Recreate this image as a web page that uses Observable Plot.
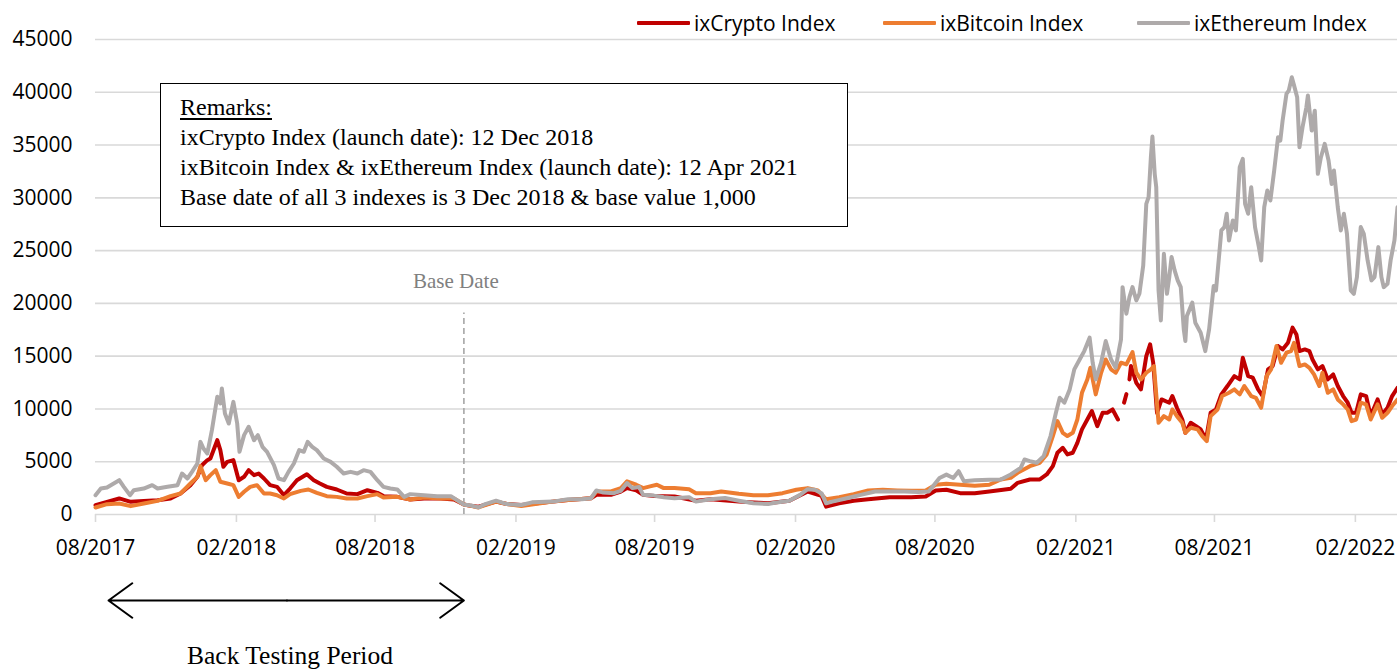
<!DOCTYPE html>
<html>
<head>
<meta charset="utf-8">
<script src="https://cdn.jsdelivr.net/npm/d3@7"></script>
<script src="https://cdn.jsdelivr.net/npm/@observablehq/plot@0.6"></script>
<style>
  html, body { margin: 0; padding: 0; background: #fff; }
  #wrap { position: relative; width: 1397px; height: 671px; overflow: hidden; }
  #chart { position: absolute; left: 0; top: 0; }
  .legend-item { position: absolute; top: 8px; height: 30px; display: flex; align-items: center; font-family: "Open Sans", sans-serif; font-size: 21px; color: #000; white-space: nowrap; }
  .legend-item .sw { width: 53px; height: 4px; margin-right: 4px; border-radius: 1px; }
  #remarks { position: absolute; left: 160px; top: 83px; width: 688px; height: 144px; border: 1.5px solid #000; background: #fff;
    font-family: "Liberation Serif", "Times New Roman", serif; font-size: 24px; line-height: 30px; color: #000; padding: 8px 0 0 19px; box-sizing: border-box; }
  #remarks .u { text-decoration: underline; text-underline-offset: 3px; }
</style>
</head>
<body>
<div id="wrap">
  <div id="chart"></div>
</div>
<script>
// ---------------- data ----------------
const seriesNames = ["ixCrypto Index", "ixBitcoin Index", "ixEthereum Index"];
const seriesColors = ["#C00000", "#ED7D31", "#AEAAAA"];

const xTickLabels = ["2017-08-01","2018-02-01","2018-08-01","2019-02-01","2019-08-01","2020-02-01","2020-08-01","2021-02-01","2021-08-01","2022-02-01"];
const yTickValues = [0,5000,10000,15000,20000,25000,30000,35000,40000,45000];
const xDomain = ["2017-08-01", "2022-03-28"];

const baseDate = "2018-11-25";
const backTestStart = "2017-08-18";
const backTestMid = "2018-04-08";

const remarks = [
  "Remarks:",
  "ixCrypto Index (launch date): 12 Dec 2018",
  "ixBitcoin Index & ixEthereum Index (launch date): 12 Apr 2021",
  "Base date of all 3 indexes is 3 Dec 2018 & base value 1,000"
];

const crypto = [
["2017-08-01",880],["2017-08-16",1200],["2017-09-01",1520],["2017-09-16",1200],["2017-10-03",1290],["2017-10-21",1360],
["2017-11-07",1520],["2017-11-20",1990],["2017-12-03",2780],["2017-12-12",3570],["2017-12-18",4670],["2017-12-25",5150],
["2017-12-29",5310],["2018-01-07",7040],["2018-01-11",6100],["2018-01-15",4520],["2018-01-20",4990],["2018-01-28",5150],
["2018-02-04",3250],["2018-02-11",3570],["2018-02-17",4200],["2018-02-24",3730],["2018-03-02",3880],["2018-03-09",3410],
["2018-03-17",2780],["2018-03-26",2620],["2018-04-04",1830],["2018-04-12",2460],["2018-04-21",3250],["2018-05-04",3820],
["2018-05-13",3250],["2018-05-21",2940],["2018-05-30",2620],["2018-06-12",2370],["2018-06-25",1990],["2018-07-09",1930],
["2018-07-22",2300],["2018-08-04",2050],["2018-08-12",1740],["2018-08-30",1670],["2018-09-16",1420],["2018-10-04",1520],
["2018-10-26",1520],["2018-11-12",1420],["2018-11-25",950],["2018-12-04",820],["2018-12-14",740],["2019-01-06",1220],
["2019-01-20",1000],["2019-02-08",900],["2019-03-21",1220],["2019-04-10",1380],["2019-05-10",1540],["2019-05-17",1860],
["2019-06-05",1860],["2019-06-18",2180],["2019-06-26",2500],["2019-07-08",2280],["2019-07-17",1860],["2019-07-31",1760],
["2019-08-27",1700],["2019-09-24",1310],["2019-10-13",1440],["2019-11-19",1220],["2019-12-27",1060],["2020-01-24",1310],
["2020-02-17",2180],["2020-03-06",1760],["2020-03-12",740],["2020-03-29",1060],["2020-04-17",1310],["2020-05-06",1440],
["2020-06-03",1630],["2020-07-01",1630],["2020-07-20",1700],["2020-08-02",2280],["2020-08-16",2340],["2020-09-03",2020],
["2020-09-22",2020],["2020-10-11",2180],["2020-10-29",2340],["2020-11-08",2430],["2020-11-17",3000],["2020-12-03",3320],
["2020-12-16",3320],["2020-12-25",3790],["2021-01-02",4580],["2021-01-08",5850],["2021-01-15",6320],["2021-01-21",5690],
["2021-01-28",5850],["2021-02-03",6790],["2021-02-09",8060],["2021-02-16",9000],["2021-02-22",9800],["2021-03-01",8370],
["2021-03-08",9640],["2021-03-14",9640],["2021-03-21",9950],["2021-03-28",9000],["2021-04-02",null],["2021-04-05",10600],
["2021-04-08",11400],["2021-04-10",null],["2021-04-12",12800],["2021-04-14",14060],["2021-04-21",12480],["2021-04-27",11850],
["2021-05-04",15010],["2021-05-09",16120],["2021-05-13",14380],["2021-05-18",9640],["2021-05-24",10900],["2021-06-03",10590],
["2021-06-07",11220],["2021-06-13",10110],["2021-06-20",9000],["2021-06-24",7740],["2021-07-01",8690],["2021-07-08",8370],
["2021-07-14",8060],["2021-07-21",7110],["2021-07-27",9640],["2021-08-03",9950],["2021-08-10",11380],["2021-08-18",12170],
["2021-08-27",13110],["2021-09-03",12800],["2021-09-07",14850],["2021-09-14",13110],["2021-09-20",12960],["2021-09-27",11850],
["2021-10-03",11220],["2021-10-10",13750],["2021-10-16",14060],["2021-10-23",15960],["2021-10-29",15640],["2021-11-05",16270],
["2021-11-11",17700],["2021-11-16",17060],["2021-11-20",15480],["2021-11-27",15640],["2021-12-03",15480],["2021-12-07",14690],
["2021-12-14",13750],["2021-12-20",14060],["2021-12-27",12800],["2022-01-03",13270],["2022-01-09",12170],["2022-01-16",11220],
["2022-01-22",10590],["2022-01-27",9640],["2022-02-02",9640],["2022-02-08",11380],["2022-02-15",11220],["2022-02-21",9320],
["2022-03-02",10900],["2022-03-08",9480],["2022-03-15",10110],["2022-03-21",11220],["2022-03-28",12010]
];

const bitcoin = [
["2017-08-01",660],["2017-08-16",980],["2017-09-01",1040],["2017-09-16",790],["2017-10-03",1040],["2017-10-21",1290],
["2017-11-07",1740],["2017-11-20",1990],["2017-12-03",2940],["2017-12-12",3570],["2017-12-16",4580],["2017-12-23",3250],
["2017-12-29",3730],["2018-01-05",4200],["2018-01-11",3100],["2018-01-20",2940],["2018-01-28",2780],["2018-02-04",1670],
["2018-02-11",2150],["2018-02-19",2620],["2018-02-28",2780],["2018-03-09",1990],["2018-03-17",1990],["2018-03-26",1830],
["2018-04-04",1520],["2018-04-12",1930],["2018-04-26",2240],["2018-05-06",2370],["2018-05-17",2050],["2018-05-30",1740],
["2018-06-12",1670],["2018-06-25",1520],["2018-07-09",1520],["2018-07-22",1740],["2018-08-04",1930],["2018-08-12",1610],
["2018-08-30",1670],["2018-09-16",1420],["2018-10-04",1610],["2018-10-26",1520],["2018-11-12",1520],["2018-11-25",950],
["2018-12-04",820],["2018-12-14",670],["2019-01-06",1220],["2019-01-20",1000],["2019-02-08",800],["2019-03-21",1220],
["2019-04-10",1380],["2019-05-10",1540],["2019-05-17",2180],["2019-06-05",2180],["2019-06-18",2500],["2019-06-26",3140],
["2019-07-08",2820],["2019-07-17",2500],["2019-07-26",2660],["2019-08-04",2820],["2019-08-13",2500],["2019-08-27",2500],
["2019-09-15",2400],["2019-09-24",2020],["2019-10-13",2020],["2019-10-27",2180],["2019-11-19",1960],["2019-12-08",1830],
["2019-12-27",1830],["2020-01-15",2020],["2020-02-02",2340],["2020-02-17",2500],["2020-03-01",2280],["2020-03-12",1440],
["2020-03-29",1630],["2020-04-17",1920],["2020-05-06",2280],["2020-05-25",2340],["2020-06-13",2280],["2020-07-01",2240],
["2020-07-20",2280],["2020-08-02",2820],["2020-08-16",2920],["2020-09-03",2820],["2020-09-22",2720],["2020-10-11",2820],
["2020-10-26",3320],["2020-11-08",3480],["2020-11-17",3950],["2020-12-03",4580],["2020-12-16",4900],["2020-12-25",5690],
["2021-01-02",7430],["2021-01-08",8850],["2021-01-15",7740],["2021-01-21",7430],["2021-01-28",7740],["2021-02-03",9000],
["2021-02-09",11530],["2021-02-16",12800],["2021-02-20",13900],["2021-02-27",11380],["2021-03-06",13430],["2021-03-12",14690],
["2021-03-19",13750],["2021-03-25",13430],["2021-04-01",14380],["2021-04-08",14220],["2021-04-16",15390],["2021-04-21",13430],
["2021-04-27",12800],["2021-05-04",13430],["2021-05-10",13750],["2021-05-14",14060],["2021-05-20",8690],["2021-05-27",9320],
["2021-06-03",9000],["2021-06-07",9950],["2021-06-13",9320],["2021-06-20",8690],["2021-06-24",7740],["2021-07-01",8220],
["2021-07-10",8060],["2021-07-16",7430],["2021-07-22",6950],["2021-07-27",9320],["2021-08-05",9950],["2021-08-11",11220],
["2021-08-20",11530],["2021-08-27",11850],["2021-09-03",11380],["2021-09-09",12170],["2021-09-18",11220],["2021-09-24",11060],
["2021-10-01",10110],["2021-10-08",13110],["2021-10-14",13750],["2021-10-21",15960],["2021-10-27",14380],["2021-11-03",15330],
["2021-11-09",15480],["2021-11-13",16270],["2021-11-20",14060],["2021-11-27",14220],["2021-12-03",13900],["2021-12-09",13270],
["2021-12-16",12170],["2021-12-20",13430],["2021-12-27",11530],["2022-01-03",11850],["2022-01-09",10900],["2022-01-16",10430],
["2022-01-22",9950],["2022-01-27",8850],["2022-02-02",9000],["2022-02-08",10590],["2022-02-15",10430],["2022-02-21",9000],
["2022-03-02",10430],["2022-03-08",9160],["2022-03-15",9640],["2022-03-21",10270],["2022-03-28",10900]
];

const ethereum = [
["2017-08-01",1830],["2017-08-08",2460],["2017-08-16",2560],["2017-09-01",3250],["2017-09-07",2620],["2017-09-15",1830],
["2017-09-20",2300],["2017-10-03",2460],["2017-10-14",2780],["2017-10-21",2460],["2017-11-03",2620],["2017-11-16",2780],
["2017-11-22",3880],["2017-11-29",3410],["2017-12-05",4040],["2017-12-12",4830],["2017-12-16",6880],["2017-12-20",6250],
["2017-12-25",5780],["2017-12-31",7990],["2018-01-07",11150],["2018-01-11",10520],["2018-01-13",11940],["2018-01-17",9570],
["2018-01-22",8620],["2018-01-28",10670],["2018-02-02",8620],["2018-02-05",5940],["2018-02-11",7520],["2018-02-17",8310],
["2018-02-24",7040],["2018-03-01",7520],["2018-03-07",6410],["2018-03-13",5940],["2018-03-22",4670],["2018-03-28",3410],
["2018-04-04",3250],["2018-04-10",4040],["2018-04-17",4830],["2018-04-24",6100],["2018-04-30",5940],["2018-05-05",6880],
["2018-05-11",6410],["2018-05-17",6100],["2018-05-26",5300],["2018-06-04",4990],["2018-06-12",4520],["2018-06-21",3880],
["2018-06-30",4040],["2018-07-09",3880],["2018-07-17",4200],["2018-07-26",4040],["2018-08-04",3250],["2018-08-12",2620],
["2018-08-21",2460],["2018-08-30",2370],["2018-09-08",1670],["2018-09-16",1930],["2018-10-04",1830],["2018-10-21",1740],
["2018-11-08",1740],["2018-11-16",1360],["2018-11-25",950],["2018-12-04",850],["2018-12-14",670],["2018-12-23",990],
["2019-01-06",1310],["2019-01-20",990],["2019-02-08",900],["2019-02-22",1150],["2019-03-21",1220],["2019-04-10",1440],
["2019-04-28",1440],["2019-05-10",1540],["2019-05-17",2280],["2019-05-26",2080],["2019-06-09",2020],["2019-06-18",2240],
["2019-06-26",2980],["2019-07-03",2500],["2019-07-12",2600],["2019-07-17",1860],["2019-07-31",1790],["2019-08-13",1630],
["2019-08-27",1540],["2019-09-15",1630],["2019-09-24",1220],["2019-10-13",1440],["2019-11-01",1570],["2019-11-19",1310],
["2019-12-08",1060],["2019-12-27",990],["2020-01-05",1120],["2020-01-24",1310],["2020-02-07",1860],["2020-02-17",2400],
["2020-02-26",2340],["2020-03-06",2020],["2020-03-12",1060],["2020-03-20",1220],["2020-04-08",1540],["2020-04-26",1860],
["2020-05-15",2180],["2020-06-03",2180],["2020-06-22",2180],["2020-07-10",2120],["2020-07-24",2180],["2020-08-07",3460],
["2020-08-16",3780],["2020-08-25",3460],["2020-09-01",4100],["2020-09-08",3140],["2020-09-22",3240],["2020-10-11",3300],
["2020-10-26",3320],["2020-11-08",3790],["2020-11-21",4420],["2020-11-26",5210],["2020-12-03",5060],["2020-12-12",4900],
["2020-12-21",5530],["2020-12-30",7430],["2021-01-06",9640],["2021-01-11",11060],["2021-01-17",10590],["2021-01-24",11850],
["2021-01-30",13750],["2021-02-06",14690],["2021-02-12",15480],["2021-02-19",16750],["2021-02-23",14380],["2021-02-27",12800],
["2021-03-06",14380],["2021-03-12",16430],["2021-03-19",14690],["2021-03-25",13900],["2021-04-01",16590],["2021-04-03",21540],
["2021-04-08",19020],["2021-04-12",20600],["2021-04-16",21540],["2021-04-21",20280],["2021-04-25",20910],["2021-04-30",23590],
["2021-05-04",29430],["2021-05-07",30060],["2021-05-10",33850],["2021-05-12",35800],["2021-05-15",32270],["2021-05-17",31010],
["2021-05-20",21230],["2021-05-23",18390],["2021-05-27",24700],["2021-05-31",20910],["2021-06-03",22490],["2021-06-06",24390],
["2021-06-10",23130],["2021-06-14",22180],["2021-06-18",21540],["2021-06-22",17500],["2021-06-24",16430],["2021-06-26",18800],
["2021-07-03",20070],["2021-07-07",18170],["2021-07-14",17220],["2021-07-20",15480],["2021-07-25",17540],["2021-07-31",21650],
["2021-08-03",21230],["2021-08-10",26910],["2021-08-14",27230],["2021-08-17",28490],["2021-08-20",25960],["2021-08-25",27860],
["2021-08-29",26910],["2021-09-03",32900],["2021-09-07",33690],["2021-09-10",29430],["2021-09-14",28490],["2021-09-18",31010],
["2021-09-23",27230],["2021-09-28",25330],["2021-10-01",24070],["2021-10-05",29120],["2021-10-09",30690],["2021-10-13",29750],
["2021-10-18",32590],["2021-10-23",35740],["2021-10-26",35430],["2021-10-29",37320],["2021-11-03",39840],["2021-11-06",40160],
["2021-11-10",41420],["2021-11-13",40630],["2021-11-17",39530],["2021-11-20",34800],["2021-11-24",36690],["2021-11-29",38580],
["2021-12-01",39690],["2021-12-06",36370],["2021-12-10",38260],["2021-12-14",32270],["2021-12-18",33850],["2021-12-23",35110],
["2021-12-28",33530],["2022-01-01",31320],["2022-01-04",32590],["2022-01-09",29120],["2022-01-13",26910],["2022-01-17",28490],
["2022-01-21",26590],["2022-01-26",21230],["2022-01-30",20910],["2022-02-03",22490],["2022-02-08",27230],["2022-02-12",26590],
["2022-02-17",24070],["2022-02-22",22180],["2022-02-26",22490],["2022-03-03",25330],["2022-03-07",22490],["2022-03-10",21540],
["2022-03-15",21860],["2022-03-19",24070],["2022-03-24",25960],["2022-03-28",29120]
];

// ---------------- build ----------------
const parse = d3.utcParse("%Y-%m-%d");
const rows = (arr) => arr.map(([d, v]) => ({date: parse(d), value: v}));
const seriesData = [crypto, bitcoin, ethereum].map(rows);
const xTicks = xTickLabels.map(parse);
const gray = "#D9D9D9";

const lineMarks = seriesData.map((data, i) =>
  Plot.line(data, {x: "date", y: "value", stroke: seriesColors[i], strokeWidth: 4, strokeLinejoin: "round", strokeLinecap: "round"})
);

const plot = Plot.plot({
  width: 1397,
  height: 671,
  marginLeft: 95,
  marginRight: 0,
  marginTop: 39,
  marginBottom: 157,
  style: {fontFamily: "'Open Sans', sans-serif", fontSize: "21px", color: "#000", background: "transparent", overflow: "visible"},
  x: {type: "utc", domain: xDomain.map(parse)},
  y: {domain: [0, 45000]},
  marks: [
    Plot.ruleY(yTickValues, {stroke: gray, strokeWidth: 1.6}),
    Plot.axisY({ticks: yTickValues, tickSize: 0, tickPadding: 23, label: null, tickFormat: d => String(d), fill: "#000"}),
    Plot.axisX({ticks: xTicks, tickSize: 8, text: null, stroke: gray, strokeWidth: 1.6, label: null}),
    Plot.axisX({ticks: xTicks, tickSize: 0, tickPadding: 26, tickFormat: d3.utcFormat("%m/%Y"), label: null, fill: "#000"}),
    Plot.ruleX([parse(baseDate)], {y1: 0, y2: 19100, stroke: "#A6A6A6", strokeWidth: 1.6, strokeDasharray: "6,4"}),
    Plot.text(["Base Date"], {x: parse(baseDate), y: 22100, dx: -8, text: d => d, fill: "#808080",
      fontFamily: "'Liberation Serif', serif", fontSize: 21}),
    ...lineMarks,
    Plot.arrow([{a: parse(backTestMid), b: parse(backTestStart)}, {a: parse(backTestMid), b: parse(baseDate)}],
      {x1: "a", x2: "b", y1: 0, y2: 0, dy: 86, stroke: "#000", strokeWidth: 2, headLength: 22, headAngle: 72}),
    Plot.text(["Back Testing Period"], {x: parse(backTestMid), y: 0, dy: 141, dx: 3, text: d => d, fill: "#000",
      fontFamily: "'Liberation Serif', serif", fontSize: 25.5})
  ]
});
document.getElementById("chart").appendChild(plot);

// legend (HTML, above the plot area)
const wrap = document.getElementById("wrap");
const legendLeft = [637, 883, 1137];
seriesNames.forEach((name, i) => {
  const item = document.createElement("div");
  item.className = "legend-item";
  item.style.left = legendLeft[i] + "px";
  const sw = document.createElement("span");
  sw.className = "sw";
  sw.style.background = seriesColors[i];
  item.appendChild(sw);
  item.appendChild(document.createTextNode(name));
  wrap.appendChild(item);
});

// remarks box
const box = document.createElement("div");
box.id = "remarks";
remarks.forEach((t, i) => {
  const line = document.createElement("div");
  if (i === 0) line.className = "u";
  line.textContent = t;
  box.appendChild(line);
});
wrap.appendChild(box);
</script>
</body>
</html>
